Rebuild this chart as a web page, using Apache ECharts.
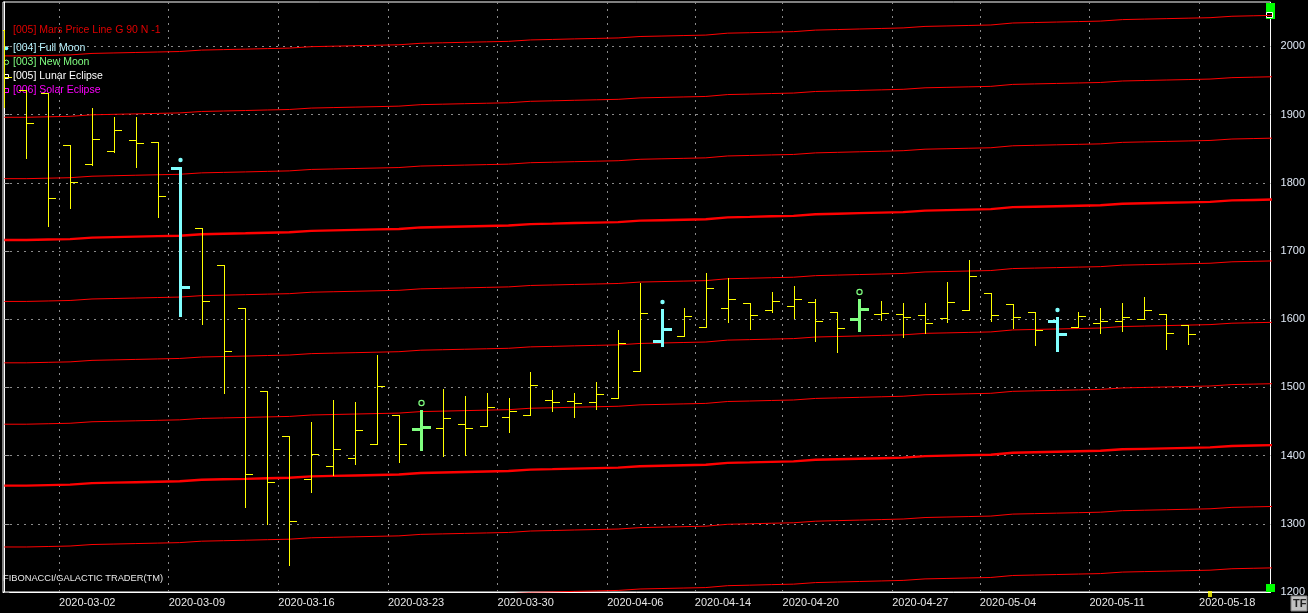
<!DOCTYPE html>
<html>
<head>
<meta charset="utf-8">
<script src="https://cdn.jsdelivr.net/npm/echarts@6/dist/echarts.min.js"></script>
<style>
html,body{margin:0;padding:0;background:#000;}
#chart{width:1308px;height:613px;}
</style>
</head>
<body>
<div id="chart"></div>
<script>
// ---- data ----
const dates = [
  '2020-02-26','2020-02-27','2020-02-28',
  '2020-03-02','2020-03-03','2020-03-04','2020-03-05','2020-03-06',
  '2020-03-09','2020-03-10','2020-03-11','2020-03-12','2020-03-13',
  '2020-03-16','2020-03-17','2020-03-18','2020-03-19','2020-03-20',
  '2020-03-23','2020-03-24','2020-03-25','2020-03-26','2020-03-27',
  '2020-03-30','2020-03-31','2020-04-01','2020-04-02','2020-04-03',
  '2020-04-06','2020-04-07','2020-04-08','2020-04-09',
  '2020-04-14','2020-04-15','2020-04-16','2020-04-17',
  '2020-04-20','2020-04-21','2020-04-22','2020-04-23','2020-04-24',
  '2020-04-27','2020-04-28','2020-04-29','2020-04-30',
  '2020-05-04','2020-05-05','2020-05-06','2020-05-07','2020-05-08',
  '2020-05-11','2020-05-12','2020-05-13','2020-05-14','2020-05-15',
  '2020-05-18','2020-05-19','2020-05-20','2020-05-21'
];
const openP  = [2024,1936,1931,1855,1828,1846,1862,1860,1821,1733,1679,1616,1494,1428,1365,1384,1396,1417,1459,1439,1440,1447,1444,1457,1460,1482,1480,1478,1484,1524,1568,1576,1589,1617,1623,1614,1620,1625,1611,1600,1607,1607,1606,1601,1613,1638,1622,1611,1598,1588,1595,1597,1600,1607,1592];
const highP  = [2024,1936,1931,1855,1909,1896,1896,1860,1822,1733,1679,1616,1494,1428,1449,1482,1479,1547,1459,1465,1497,1487,1492,1484,1522,1496,1492,1508,1584,1653,1614,1616,1667,1661,1623,1640,1649,1630,1611,1628,1626,1623,1623,1655,1687,1638,1622,1611,1601,1611,1617,1623,1633,1607,1592];
const lowP   = [1911,1837,1737,1763,1826,1845,1823,1750,1606,1593,1492,1324,1300,1239,1347,1372,1387,1417,1391,1410,1400,1401,1444,1435,1460,1466,1456,1469,1484,1524,1562,1576,1589,1596,1586,1611,1601,1568,1552,1584,1599,1574,1580,1596,1613,1597,1587,1562,1555,1588,1579,1582,1600,1556,1564];
const closeP = [1955,1887,1777,1801,1864,1878,1859,1780,1647,1626,1553,1373,1361,1304,1402,1409,1437,1502,1417,1442,1455,1441,1471,1465,1503,1478,1477,1490,1565,1609,1585,1604,1645,1630,1606,1626,1629,1598,1587,1615,1609,1603,1595,1625,1663,1606,1603,1584,1578,1604,1598,1603,1614,1579,1578];
const fullMoonDates = ['2020-03-09','2020-04-08','2020-05-07'];
const newMoonDates  = ['2020-03-24','2020-04-23'];
const weekStarts = ['2020-03-02','2020-03-09','2020-03-16','2020-03-23','2020-03-30','2020-04-06','2020-04-14','2020-04-20','2020-04-27','2020-05-04','2020-05-11','2020-05-18'];
// Mars price line (base level, one value per date)
const marsBase = [1716.0,1716.7,1717.4,1719.6,1720.3,1721.0,1721.7,1722.4,1724.5,1725.2,1725.9,1726.7,1727.4,1729.5,1730.2,1730.9,1731.6,1732.3,1734.5,1735.2,1735.9,1736.6,1737.3,1739.4,1740.1,1740.9,1741.6,1742.3,1744.4,1745.1,1745.8,1746.5,1749.3,1750.0,1750.8,1751.5,1753.8,1754.6,1755.4,1756.2,1757.0,1759.2,1759.9,1760.6,1761.3,1764.2,1764.9,1765.6,1766.3,1767.0,1769.2,1769.9,1770.6,1771.3,1772.0,1774.1,1774.8,1775.5,1776.2];
const marsOffsets = [-540,-450,-360,-270,-180,-90,0,90,180,270];
const marsHeavyOffsets = [-360,0];
const yTicks = [1200,1300,1400,1500,1600,1700,1800,1900,2000];
const lastPrice = 1572;
const currentBarDate = '2020-05-18';

// ---- build ----
const FONT = "'Liberation Sans', Arial, sans-serif";
const ohlcData = openP.map((o, i) => {
  const d = dates[i];
  const kind = fullMoonDates.includes(d) ? 1 : (newMoonDates.includes(d) ? 2 : 0);
  return [i, o, highP[i], lowP[i], closeP[i], kind];
});
const weekVals = weekStarts.map(d => dates.indexOf(d) - 0.5);

function renderOHLC(params, api) {
  const idx = api.value(0);
  const kind = api.value(5);
  const color = kind === 1 ? '#80ffff' : (kind === 2 ? '#80ff80' : '#ffff00');
  const w = kind ? 3 : 1;
  const half = (w - 1) / 2;
  const tick = kind ? 9 : 7;
  const op = api.coord([idx, api.value(1)]);
  const hi = api.coord([idx, api.value(2)]);
  const lo = api.coord([idx, api.value(3)]);
  const cl = api.coord([idx, api.value(4)]);
  const xc = Math.round(hi[0]);
  const yh = Math.round(hi[1]);
  const yl = Math.round(lo[1]);
  const yo = Math.round(op[1]);
  const yc = Math.round(cl[1]);
  const style = { fill: color };
  const children = [
    { type: 'rect', shape: { x: xc - half, y: yh - half, width: w, height: yl - yh + w }, style },
    { type: 'rect', shape: { x: xc - tick, y: yo - half, width: tick, height: w }, style },
    { type: 'rect', shape: { x: xc, y: yc - half, width: tick + 1, height: w }, style }
  ];
  if (kind === 1) {
    children.push({ type: 'circle', shape: { cx: xc + 0.5, cy: yh - 8, r: 2.2 }, style: { fill: color } });
  } else if (kind === 2) {
    children.push({ type: 'circle', shape: { cx: xc + 0.5, cy: yh - 8, r: 2.6 }, style: { fill: 'none', stroke: color, lineWidth: 1.2 } });
  }
  return { type: 'group', children };
}

const marsSeries = marsOffsets.map(off => ({
  type: 'line',
  name: 'Mars ' + off,
  step: 'end',
  symbol: 'none',
  silent: true,
  z: 2,
  lineStyle: { color: '#ff0000', width: marsHeavyOffsets.includes(off) ? 2.4 : 1 },
  data: marsBase.map((v, i) => [i, v + off])
}));

const gridLineStyle = { color: '#8a8a8a', type: [2, 5], width: 1 };

const option = {
  backgroundColor: '#000',
  animation: false,
  textStyle: { fontFamily: FONT },
  grid: { left: 3, right: 33, top: 2, bottom: 21, show: true, borderColor: '#ffffff', borderWidth: 1, backgroundColor: '#000' },
  xAxis: {
    type: 'value', min: -0.06, max: 57.76,
    axisLine: { show: true, onZero: false, lineStyle: { color: '#ffffff', width: 1 } },
    axisTick: { show: false, customValues: weekVals },
    axisLabel: {
      customValues: weekVals,
      formatter: v => dates[Math.round(v + 0.5)],
      align: 'left', color: '#e8e8e8', fontSize: 11, fontFamily: FONT, margin: 5
    },
    splitLine: { show: true, lineStyle: gridLineStyle }
  },
  yAxis: {
    type: 'value', position: 'right', min: 1200, max: 2065, interval: 100,
    axisLine: { show: true, lineStyle: { color: '#ffffff', width: 1 } },
    axisTick: { show: true, inside: false, length: 5, customValues: yTicks, lineStyle: { color: '#a0a0a0' } },
    axisLabel: { customValues: yTicks, formatter: v => String(v), color: '#dfe8f5', fontSize: 11, fontFamily: FONT, margin: 10 },
    splitLine: { show: true, lineStyle: gridLineStyle }
  },
  series: [
    ...marsSeries,
    {
      type: 'custom',
      name: 'Price',
      renderItem: renderOHLC,
      clip: true,
      z: 5,
      encode: { x: 0, y: [1, 2, 3, 4] },
      data: ohlcData,
      markLine: {
        silent: true,
        symbol: 'none',
        lineStyle: { opacity: 0 },
        label: {
          show: true, position: 'end', distance: 2,
          formatter: String(lastPrice),
          color: '#000', backgroundColor: '#ffffff',
          fontSize: 11, fontFamily: FONT, padding: [1, 3, 1, 3], lineHeight: 12
        },
        data: [{ yAxis: lastPrice }]
      }
    },
    {
      type: 'scatter',
      name: 'Current',
      symbol: 'rect',
      symbolSize: [4, 6],
      symbolOffset: [0, 2],
      clip: false,
      silent: true,
      z: 6,
      itemStyle: { color: '#ffff00' },
      data: [[dates.indexOf(currentBarDate), 1200]]
    }
  ],
  graphic: [
    { type: 'text', left: 13, top: 25, style: { text: '[005] Mars Price Line G 90 N -1', fill: '#e00000', font: '10.5px ' + FONT } },
    { type: 'circle', shape: { cx: 6.3, cy: 48.3, r: 2 }, style: { fill: '#80ffff' } },
    { type: 'text', left: 13, top: 42.5, style: { text: '[004] Full Moon', fill: '#b8f4ff', font: '10.5px ' + FONT } },
    { type: 'circle', shape: { cx: 6.5, cy: 62.3, r: 2.2 }, style: { fill: 'none', stroke: '#80ff80', lineWidth: 1 } },
    { type: 'text', left: 13, top: 56.5, style: { text: '[003] New Moon', fill: '#80ff80', font: '10.5px ' + FONT } },
    { type: 'rect', shape: { x: 4.5, y: 74.5, width: 4, height: 4 }, style: { fill: 'none', stroke: '#ffffff', lineWidth: 1 } },
    { type: 'text', left: 13, top: 70.5, style: { text: '[005] Lunar Eclipse', fill: '#ffffff', font: '10.5px ' + FONT } },
    { type: 'rect', shape: { x: 4.5, y: 88.5, width: 4, height: 4 }, style: { fill: 'none', stroke: '#ff00ff', lineWidth: 1 } },
    { type: 'text', left: 13, top: 84.5, style: { text: '[006] Solar Eclipse', fill: '#ff00ff', font: '10.5px ' + FONT } },
    { type: 'text', left: 3, top: 574, style: { text: 'FIBONACCI/GALACTIC TRADER(TM)', fill: '#e8e8e8', font: '9.3px ' + FONT } },
    { type: 'rect', shape: { x: 1266, y: 3, width: 9, height: 16 }, style: { fill: '#00ff00' } },
    { type: 'rect', shape: { x: 1266.5, y: 12.5, width: 6, height: 5 }, style: { fill: '#000', stroke: '#ffffff', lineWidth: 1 } },
    { type: 'rect', shape: { x: 1266, y: 584, width: 9, height: 8 }, style: { fill: '#00ff00' } },
    { type: 'rect', shape: { x: 1291, y: 596, width: 16, height: 15 }, style: { fill: '#c0c0c0', stroke: '#808080', lineWidth: 1 } },
    { type: 'text', left: 1293, top: 598, style: { text: 'TF', fill: '#202020', font: 'bold 11px ' + FONT } }
  ]
};

const chart = echarts.init(document.getElementById('chart'), null, { renderer: 'canvas' });
chart.setOption(option);
</script>
</body>
</html>
